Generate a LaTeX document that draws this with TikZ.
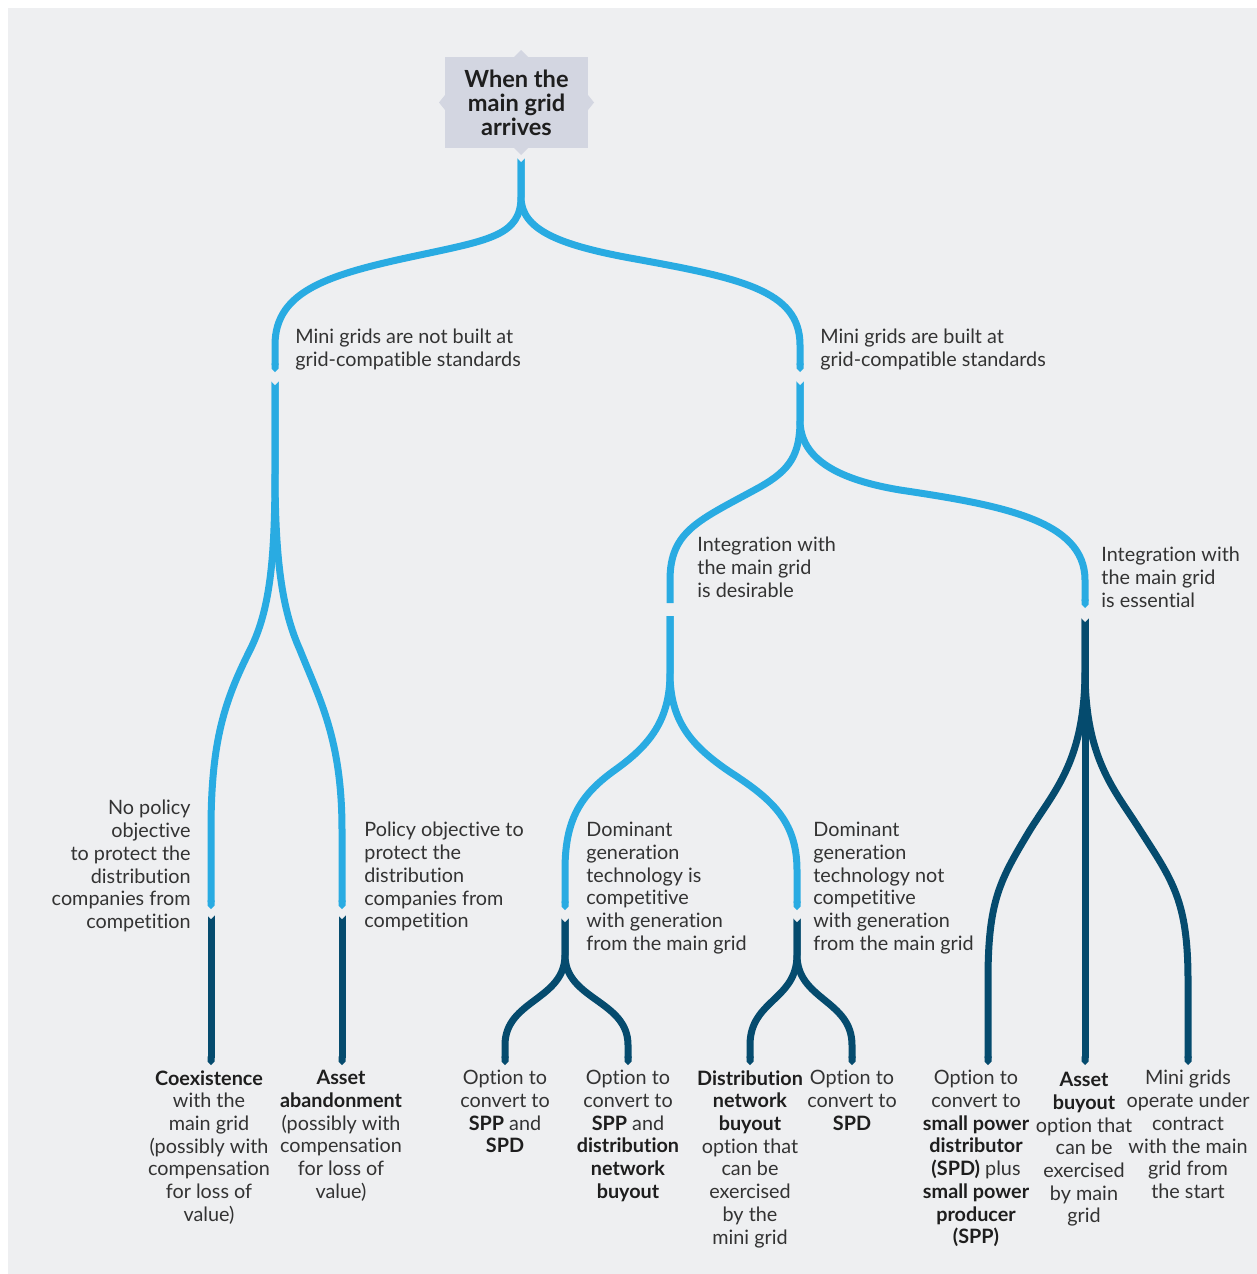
\documentclass[tikz,border=0pt]{standalone}
\usepackage{fontspec}
\setmainfont{Lato}[Ligatures=NoCommon]
\usetikzlibrary{arrows.meta,calc}
\definecolor{bg}{HTML}{EEEFF1}
\definecolor{boxc}{HTML}{D3D6E1}
\definecolor{lblue}{HTML}{29ABE2}
\definecolor{dblue}{HTML}{054B6E}
\definecolor{txt}{HTML}{333333}
\definecolor{txtb}{HTML}{1E1E1E}
\newcommand\B[1]{\textbf{\color{txtb}#1}}
\newcommand\notchat[1]{\fill[bg] ($(#1)+(-4.5,-0.5)$) -- ($(#1)+(4.5,-0.5)$) -- ($(#1)+(0,4)$) -- cycle;}
\begin{document}
\begin{tikzpicture}[x=0.5pt,y=-0.5pt,
  lb/.style={draw=lblue,line width=3.5pt},
  db/.style={draw=dblue,line width=3.5pt},
  tipend/.style={-{Triangle Cap}},
  lbl/.style={inner sep=0pt,font=\fontsize{9.9}{11.35}\selectfont,text=txt},
  lblL/.style={lbl,anchor=north west,align=left},
  lblR/.style={lbl,anchor=north east,align=right},
  lblC/.style={lbl,anchor=north,align=center}]
\useasboundingbox (0,0) rectangle (1257,1274);
\fill[white] (0,0) rectangle (1257,1274);
\fill[bg] (8,8) rectangle (1257,1274);

% root box
\node[fill=boxc,minimum width=71.5pt,minimum height=45.5pt,inner sep=0pt,align=center,
  font=\fontsize{11.8}{12}\bfseries\selectfont,text=txtb] (root) at (516.5,102.5) {When the\\main grid\\arrives};
\fill[boxc] (514,57) -- (521,50) -- (528,57) -- cycle;
\fill[boxc] (514,148) -- (521,155) -- (528,148) -- cycle;
\fill[boxc] (445,95) -- (439,102.5) -- (445,110) -- cycle;
\fill[boxc] (588,95) -- (594,102.5) -- (588,110) -- cycle;

% coordinates
\coordinate (r0) at (521,158);
\coordinate (r1) at (521,197);
\coordinate (Lt) at (275,372);
\coordinate (Rt) at (800,372);
\coordinate (L0) at (275,381);
\coordinate (L1) at (275,470);
\coordinate (R0) at (800,381);
\coordinate (R1) at (800,420);
\coordinate (D0) at (670,616);
\coordinate (D1) at (670,673);
\coordinate (E0) at (1085,618);
\coordinate (E1) at (1085,670);
\coordinate (a0) at (211,915);
\coordinate (b0) at (342,915);
\coordinate (g0) at (565,918);
\coordinate (h0) at (797,918);

% level 1
\draw[lb,tipend] (r0) -- (r1) .. controls (521,235) and (490,240) .. (420,255) .. controls (330,274) and (275,290) .. (275,345) -- (Lt);
\draw[lb,tipend] (r0) -- (r1) .. controls (521,230) and (560,245) .. (630,258) .. controls (740,278) and (800,290) .. (800,345) -- (Rt);

% left level 2
\draw[lb,tipend] (L0) -- (L1) .. controls (275,560) and (270,610) .. (250,650) .. controls (225,700) and (211,740) .. (211,830) -- (211,909);
\draw[lb,tipend] (L0) -- (L1) .. controls (275,560) and (282,610) .. (300,650) .. controls (320,700) and (342,740) .. (342,830) -- (342,909);
\draw[db,tipend] (a0) -- (211,1065);
\draw[db,tipend] (b0) -- (342,1065);

% right level 2
\draw[lb] (R0) -- (R1) .. controls (800,455) and (790,470) .. (760,487) .. controls (700,520) and (670,530) .. (670,580) -- (670,603);
\draw[lb,tipend] (R0) -- (R1) .. controls (800,460) and (840,480) .. (900,490) .. controls (1000,505) and (1085,520) .. (1085,580) -- (1085,608);

% desirable
\draw[lb,tipend] (D0) -- (D1) .. controls (670,720) and (650,745) .. (615,770) .. controls (580,795) and (565,820) .. (565,870) -- (565,910);
\draw[lb,tipend] (D0) -- (D1) .. controls (670,720) and (690,745) .. (730,772) .. controls (770,798) and (797,820) .. (797,870) -- (797,910);

% dark forks
\draw[db,tipend] (g0) -- (565,955) .. controls (565,1000) and (505,1000) .. (505,1045) -- (505,1065);
\draw[db,tipend] (g0) -- (565,955) .. controls (565,1000) and (628,1000) .. (628,1045) -- (628,1065);
\draw[db,tipend] (h0) -- (797,955) .. controls (797,1000) and (750,1000) .. (750,1045) -- (750,1065);
\draw[db,tipend] (h0) -- (797,955) .. controls (797,1000) and (852,1000) .. (852,1045) -- (852,1065);

% essential
\draw[db,tipend] (E0) -- (1085,1065);
\draw[db,tipend] (E0) -- (E1) .. controls (1085,760) and (1055,790) .. (1030,830) .. controls (1000,880) and (988,900) .. (988,980) -- (988,1065);
\draw[db,tipend] (E0) -- (E1) .. controls (1085,760) and (1115,790) .. (1140,830) .. controls (1172,880) and (1188,900) .. (1188,980) -- (1188,1065);

% notches
\notchat{r0}
\notchat{L0}
\notchat{R0}
\notchat{a0}
\notchat{b0}
\notchat{g0}
\notchat{h0}
\notchat{E0}

% labels
\node[lblL] (tA) at (295,329) {Mini grids are not built at\\grid-compatible standards};
\node[lblL] (tB) at (820,329) {Mini grids are built at\\grid-compatible standards};
\node[lblL] (tC) at (697,537) {Integration with\\the main grid\\is desirable};
\node[lblL] (tD) at (1101,547) {Integration with\\the main grid\\is essential};
\node[lblR] (tE) at (191,800) {No policy\\objective\\to protect the\\distribution\\companies from\\competition};
\node[lblL] (tF) at (364,822) {Policy objective to\\protect the\\distribution\\companies from\\competition};
\node[lblL] (tG) at (586,822) {Dominant\\generation\\technology is\\competitive\\with generation\\from the main grid};
\node[lblL] (tH) at (813,822) {Dominant\\generation\\technology not\\competitive\\with generation\\from the main grid};

\node[lblC] (o1) at (209,1070) {\B{Coexistence}\\with the\\main grid\\(possibly with\\compensation\\for loss of\\value)};
\node[lblC] (o2) at (341,1070) {\B{Asset}\\\B{abandonment}\\(possibly with\\compensation\\for loss of\\value)};
\node[lblC] (o3) at (505,1070) {Option to\\convert to\\\B{SPP} and\\\B{SPD}};
\node[lblC] (o4) at (628,1070) {Option to\\convert to\\\B{SPP} and\\\B{distribution}\\\B{network}\\\B{buyout}};
\node[lblC] (o5) at (750,1070) {\B{Distribution}\\\B{network}\\\B{buyout}\\option that\\can be\\exercised\\by the\\mini grid};
\node[lblC] (o6) at (852,1070) {Option to\\convert to\\\B{SPD}};
\node[lblC] (o7) at (976,1070) {Option to\\convert to\\\B{small power}\\\B{distributor}\\\B{(SPD)} plus\\\B{small power}\\\B{producer}\\\B{(SPP)}};
\node[lblC] (o8) at (1084,1072) {\B{Asset}\\\B{buyout}\\option that\\can be\\exercised\\by main\\grid};
\node[lblC] (o9) at (1188,1070) {Mini grids\\operate under\\contract\\with the main\\grid from\\the start};
\end{tikzpicture}
\end{document}
